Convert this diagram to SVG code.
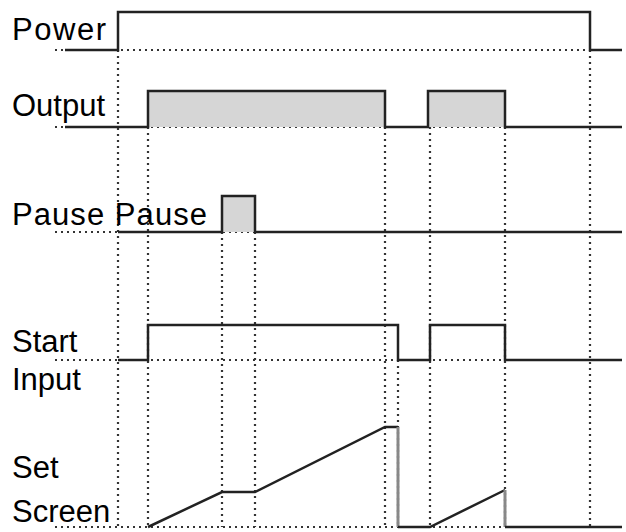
<svg xmlns="http://www.w3.org/2000/svg" width="626" height="532" viewBox="0 0 626 532">
<style>
text{font-family:"Liberation Sans",Arial,sans-serif;font-size:31px;fill:#000}
.dot{stroke:#333;stroke-width:2.2;stroke-dasharray:2 4;fill:none}
.sig{stroke:#222;stroke-width:2.5;fill:none}
.fill{fill:#d6d6d6;stroke:none}
</style>
<rect width="626" height="532" fill="#fff"/>
<g id="connectors">
<path class="dot" d="M55 50H622M55 127H622M55 232H622M55 360H622M55 527H622"/>
<path class="dot" d="M118 50V527M148 127V527M222 232V527M255 232V527M385 127V527M398 360V527M430 127V527M505 127V527M590 50V527"/>
</g>
<g id="labels">
<text x="12" y="40" textLength="94">Power</text>
<text x="12" y="116">Output</text>
<text x="12" y="225" textLength="195">Pause Pause</text>
<text x="12" y="352">Start</text>
<text x="12" y="390">Input</text>
<text x="12" y="478">Set</text>
<text x="12" y="522">Screen</text>
</g>
<g id="power"><path class="sig" d="M65 50H118V12H590V50H622"/></g>
<g id="output">
<rect class="fill" x="148" y="91" width="237" height="36"/>
<rect class="fill" x="428" y="91" width="77" height="36"/>
<path class="sig" d="M65 127H148V91H385V127H428V91H505V127H622"/>
</g>
<g id="pause">
<rect class="fill" x="222" y="196" width="33" height="36"/>
<path class="sig" d="M118 232H222V196H255V232H622"/>
</g>
<g id="start"><path class="sig" d="M118 360H148V325H398V360H430V325H505V360H622"/></g>
<g id="setscreen">
<path class="sig" d="M148 527L222 492H255L385 427H398"/>
<path d="M398 427V527" stroke="#888" stroke-width="3"/>
<path class="sig" d="M398 527H430L505 490"/>
<path d="M505 490V527" stroke="#888" stroke-width="3"/>
<path class="sig" d="M505 527H622"/>
</g>
</svg>
